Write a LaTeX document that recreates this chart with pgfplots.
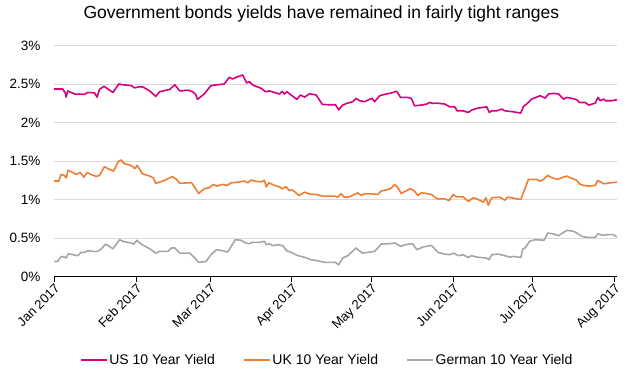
\documentclass[border=0pt]{standalone}
\usepackage{pgfplots}
\pgfplotsset{compat=1.18}
\usepackage{fontspec}
\setmainfont{Liberation Sans}
\definecolor{usc}{RGB}{214,0,128}
\definecolor{ukc}{RGB}{240,125,50}
\definecolor{dec}{RGB}{166,166,166}
\definecolor{gridc}{RGB}{217,217,217}
\begin{document}
\begin{tikzpicture}
\begin{axis}[name=ax,
  scale only axis, width=563bp, height=231bp,
  xmin=0, xmax=213, ymin=0, ymax=3,
  axis x line=bottom, axis y line=left,
  x axis line style={-, black, line width=0.8bp},
  y axis line style={draw=none},
  xtick={0,31,59,90,120,151,181,212},
  xticklabels={Jan 2017,Feb 2017,Mar 2017,Apr 2017,May 2017,Jun 2017,Jul 2017,Aug 2017},
  xtick style={black, line width=0.8bp},
  ytick style={draw=none},
  tick align=outside, major tick length=5bp,
  xticklabel style={rotate=45, anchor=north east, font=\fontsize{13bp}{15bp}\selectfont, inner sep=1bp},
  ytick={0,0.5,1,1.5,2,2.5,3},
  yticklabel={\pgfmathprintnumber{\tick}\%},
  yticklabel style={font=\fontsize{13.5bp}{15bp}\selectfont, xshift=-5bp},
  /pgf/number format/assume math mode=true,
  ymajorgrids, grid style={gridc, line width=0.8bp},
  title={Government bonds yields have remained in fairly tight ranges},
  title style={anchor=base, at={(axis description cs:0.475,1)}, yshift=21.5bp, font=\fontsize{17.5bp}{19bp}\selectfont},
  legend columns=3,
  legend style={draw=none, at={(0.485,-0.361)}, anchor=center, font=\fontsize{14bp}{16bp}\selectfont,
    /tikz/every even column/.append style={column sep=27bp},
    nodes={inner xsep=1.5bp}},
  legend image code/.code={\draw[#1] (0bp,0bp) -- (26bp,0bp);},
  every axis plot/.append style={line width=1.6bp, line join=round},
]
\addplot[usc] table {
0 2.435
3.3 2.435
4.3 2.38
4.6 2.33
5.2 2.41
7.1 2.38
8.4 2.365
9.6 2.37
11.5 2.365
12.8 2.39
15.3 2.385
16.3 2.33
17.2 2.43
18.9 2.47
20.4 2.435
22.3 2.39
24.5 2.5
26.1 2.49
29.2 2.48
30.5 2.45
32.4 2.465
33.7 2.46
36.2 2.41
38.5 2.34
40 2.40
43.8 2.43
45.7 2.49
47.6 2.41
50.7 2.42
52.4 2.40
53.5 2.37
54.3 2.30
56.8 2.37
59.4 2.48
61.9 2.49
64.4 2.5
66.3 2.587
67.6 2.565
68.9 2.587
71.4 2.617
72.9 2.513
73.9 2.53
75.2 2.487
78.4 2.443
80 2.40
81.5 2.41
83.4 2.39
85.3 2.37
86.3 2.404
87.2 2.37
88.1 2.40
89.7 2.357
91.9 2.30
93.2 2.357
94.8 2.33
96.7 2.374
99.2 2.357
101.5 2.235
104.3 2.230
106.5 2.230
107.7 2.165
109.2 2.226
111.1 2.252
113 2.27
114.3 2.313
115.6 2.283
117.5 2.27
119.1 2.296
120.4 2.313
121.3 2.27
123.2 2.348
125.7 2.37
127.6 2.383
129.5 2.404
130.1 2.383
131.1 2.326
133.9 2.326
135.2 2.313
136.4 2.217
139 2.226
141.1 2.24
142.1 2.26
143.4 2.248
144.7 2.252
147.8 2.24
149.7 2.204
151.6 2.204
152.5 2.152
154.8 2.152
156.7 2.13
158 2.16
159.9 2.183
163.7 2.204
164.7 2.13
165.6 2.152
167.5 2.152
169.4 2.174
170.6 2.152
173.8 2.139
176.6 2.122
177.6 2.209
178.8 2.24
180.7 2.304
183.9 2.348
185.8 2.317
187.1 2.37
189 2.378
190.9 2.37
192.8 2.304
194 2.326
195.9 2.313
197.8 2.296
198.8 2.26
201 2.26
202.3 2.226
204.8 2.252
205.8 2.326
206.7 2.283
208 2.304
208.6 2.283
211.1 2.283
213 2.296
};
\addlegendentry{US 10 Year Yield}
\addplot[ukc] table {
0 1.24
1.8 1.24
2.7 1.326
3.9 1.313
4.6 1.28
5.3 1.38
7.1 1.35
8.4 1.326
9.9 1.35
11.3 1.29
12.5 1.35
14 1.326
15.9 1.30
17.2 1.313
19.1 1.426
21 1.39
22.6 1.37
24.2 1.487
25.3 1.513
26.7 1.465
28.6 1.448
29.9 1.426
30.5 1.40
31.5 1.443
33.4 1.335
36.2 1.304
37.5 1.283
38.5 1.21
41.2 1.24
43.1 1.27
44.8 1.296
46.1 1.27
47.6 1.21
51.1 1.217
52 1.22
53.2 1.16
54.7 1.078
56.8 1.14
58.7 1.152
60.3 1.196
61.5 1.174
63.8 1.196
65.5 1.183
67 1.217
70.1 1.226
72 1.24
73.3 1.217
74.6 1.252
76.5 1.235
78.4 1.23
79.6 1.248
80.3 1.165
81.3 1.217
83.4 1.183
85.3 1.165
86.3 1.14
87.8 1.165
88.9 1.12
90.4 1.12
92.7 1.052
94.8 1.096
96.7 1.07
99.2 1.065
101.8 1.043
106.2 1.043
107.3 1.03
108.6 1.074
109.9 1.03
111.8 1.035
113.7 1.065
114.9 1.087
116.2 1.052
117.5 1.074
120 1.074
122.5 1.065
123.8 1.109
126.3 1.13
127.6 1.148
128.9 1.196
130.1 1.152
131.4 1.078
133 1.109
134.8 1.14
136.4 1.109
137.7 1.052
139 1.087
140.9 1.078
142.8 1.065
144.9 1.009
147.8 1.009
149.5 0.987
151 1.065
152.3 1.035
154.8 1.035
156.7 0.975
158.6 1.022
160.5 1.0
162.4 0.965
163.4 1.022
164.3 0.926
165.6 1.022
168.7 1.03
170.6 0.991
171.5 1.03
173.2 1.022
175.1 1.009
176.6 1.0
179.5 1.261
182.6 1.261
183.9 1.239
185.2 1.261
186.8 1.313
188.3 1.283
190.5 1.261
192.1 1.283
194 1.304
195.3 1.283
197.6 1.252
199.1 1.196
200.4 1.183
202.3 1.174
204.8 1.183
205.7 1.248
208 1.204
210.5 1.217
213 1.226
};
\addlegendentry{UK 10 Year Yield}
\addplot[dec] table {
0 0.196
1.4 0.196
2.4 0.25
3.5 0.26
4.6 0.24
5.4 0.296
7.1 0.283
9 0.27
10.2 0.313
11.5 0.313
12.8 0.335
14.7 0.326
16.6 0.326
17.8 0.357
19.5 0.42
21 0.39
22.3 0.36
24.8 0.478
26.1 0.457
29.2 0.435
30.1 0.42
31.4 0.47
33 0.42
36.2 0.36
38.5 0.304
40 0.326
43.1 0.326
44.4 0.37
45.7 0.37
47.6 0.304
51.4 0.304
52.4 0.27
53.3 0.24
54.7 0.183
57.5 0.196
59.4 0.283
61.5 0.348
63.8 0.335
65.7 0.317
68.6 0.478
70.8 0.47
72 0.443
73.7 0.426
75.2 0.443
77.7 0.443
79.6 0.457
80.3 0.413
81.5 0.426
82.8 0.40
84.7 0.413
86.6 0.40
87.8 0.34
89.7 0.313
92.3 0.27
94.8 0.25
97.3 0.217
99.9 0.204
102.4 0.183
106.5 0.183
107.7 0.152
109.2 0.24
111.1 0.27
114.3 0.37
116.6 0.304
118.7 0.313
121.3 0.326
123.8 0.422
127 0.426
128.9 0.435
130.1 0.413
131.4 0.39
132.7 0.413
135.6 0.426
137.3 0.348
139.6 0.383
142.8 0.404
145.3 0.313
147.8 0.291
149.7 0.283
151.3 0.304
152.9 0.27
154.8 0.283
156.7 0.248
158 0.27
159.9 0.252
163.7 0.239
164.6 0.217
165.6 0.283
168.1 0.291
170.6 0.27
172.5 0.252
173.8 0.26
176.6 0.248
177.3 0.357
178.2 0.37
179.9 0.457
182 0.478
185.4 0.47
186.8 0.565
189 0.552
190.9 0.53
194 0.6
196.6 0.587
197.8 0.565
199.7 0.522
201.6 0.509
204.8 0.509
205.8 0.557
207.3 0.535
209.2 0.543
211.7 0.543
213 0.513
};
\addlegendentry{German 10 Year Yield}
\end{axis}
\pgfresetboundingbox
\path[use as bounding box] (ax.south west) ++(-54bp,-106.5bp) rectangle ++(643bp,383bp);
\end{tikzpicture}
\end{document}
